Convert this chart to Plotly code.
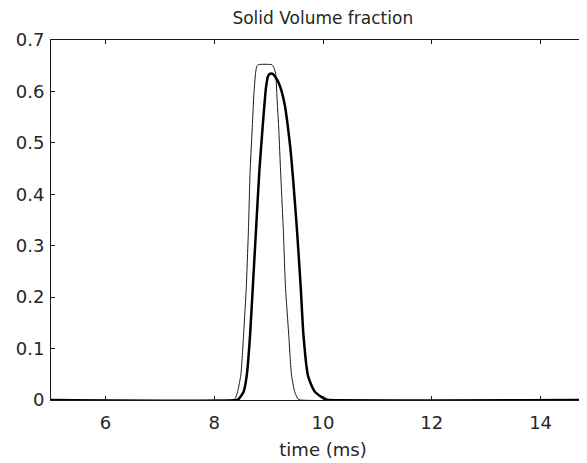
import plotly.graph_objects as go

# Thin curve (earlier / sharper profile)
thin_x = [5.0, 8.34, 8.39, 8.43, 8.49, 8.54, 8.59, 8.63, 8.66, 8.70, 8.73, 8.76, 8.78, 8.81,
          9.06, 9.09, 9.13, 9.15, 9.19, 9.22, 9.27, 9.31, 9.37, 9.42, 9.48, 9.54, 9.59, 15.0]
thin_y = [0.0, 0.0, 0.004, 0.016, 0.049, 0.127, 0.22, 0.333, 0.445, 0.53, 0.596, 0.635, 0.648, 0.652,
          0.652, 0.648, 0.635, 0.596, 0.52, 0.445, 0.333, 0.22, 0.127, 0.049, 0.016, 0.002, 0.0, 0.0]

# Thick curve
thick_x = [5.0, 8.41, 8.45, 8.54, 8.60, 8.66, 8.71, 8.77, 8.83, 8.90, 8.95, 8.97, 8.98, 9.01, 9.05,
           9.09, 9.13, 9.18, 9.24, 9.30, 9.35, 9.40, 9.45, 9.52, 9.59, 9.64, 9.72, 9.77, 9.85, 9.97, 10.06, 10.11, 15.0]
thick_y = [0.0, 0.0, 0.002, 0.016, 0.049, 0.127, 0.22, 0.333, 0.445, 0.544, 0.606, 0.62, 0.627, 0.633, 0.635,
           0.633, 0.627, 0.618, 0.60, 0.572, 0.535, 0.49, 0.43, 0.333, 0.22, 0.127, 0.049, 0.033, 0.016, 0.006, 0.001, 0.0, 0.0]

x_ticks = [6, 8, 10, 12, 14]
x_tick_labels = ["6", "8", "10", "12", "14"]
y_ticks = [0, 0.1, 0.2, 0.3, 0.4, 0.5, 0.6, 0.7]
y_tick_labels = ["0", "0.1", "0.2", "0.3", "0.4", "0.5", "0.6", "0.7"]

fig = go.Figure()
fig.add_trace(go.Scatter(x=thin_x, y=thin_y, mode="lines",
                         line=dict(color="#1a1a1a", width=1, shape="spline", smoothing=0.5),
                         showlegend=False))
fig.add_trace(go.Scatter(x=thick_x, y=thick_y, mode="lines",
                         line=dict(color="#000000", width=2.5, shape="spline", smoothing=0.5),
                         showlegend=False))

font_color = "#262626"
FONT = "DejaVu Sans, sans-serif"
# page body has an 8px default margin: layout values below are figure coordinates
fig.update_layout(
    width=587, height=463,
    margin=dict(l=43, r=0, t=32, b=71, autoexpand=False),
    paper_bgcolor="white", plot_bgcolor="white",
    font=dict(family=FONT, color=font_color, size=18),
    title=dict(text="Solid Volume fraction", x=314.8 / 587, xref="container", xanchor="center",
               y=1 - 10 / 463, yref="container", yanchor="middle",
               font=dict(family=FONT, size=17, color=font_color)),
    showlegend=False,
)
fig.update_xaxes(
    range=[5, 15], tickvals=x_ticks, ticktext=x_tick_labels,
    showgrid=False, zeroline=False, automargin=False,
    showline=True, linecolor="#1a1a1a", linewidth=1, mirror="ticks",
    ticks="inside", ticklen=4, tickcolor="#1a1a1a",
    title=dict(text="time (ms)", font=dict(family=FONT, size=18, color=font_color), standoff=11),
    tickfont=dict(family=FONT, size=18, color=font_color), ticklabelstandoff=6,
)
fig.update_yaxes(
    range=[0, 0.7], tickvals=y_ticks, ticktext=y_tick_labels,
    showgrid=False, zeroline=False, automargin=False,
    showline=True, linecolor="#1a1a1a", linewidth=1,
    ticks="inside", ticklen=4, tickcolor="#1a1a1a",
    tickfont=dict(family=FONT, size=18, color=font_color), ticklabelstandoff=2,
)
fig.write_html("out.html")
